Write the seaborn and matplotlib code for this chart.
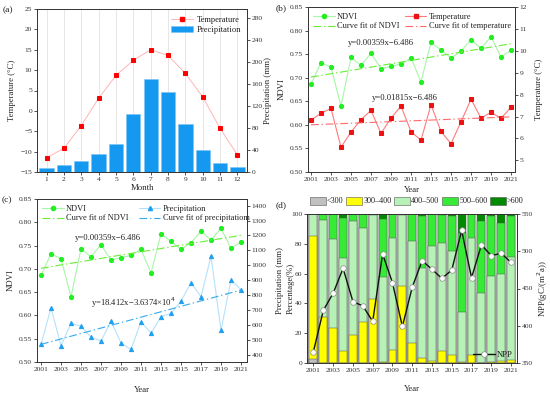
import numpy as np
import pandas as pd
import matplotlib
matplotlib.use("Agg")
import matplotlib.pyplot as plt
import seaborn as sns
from matplotlib.patches import Patch
from matplotlib.lines import Line2D

# ---------------- data ----------------
months = list(range(1, 13))
month_temp = [-11.5, -9.2, -3.6, 3.1, 8.7, 12.4, 15.0, 13.6, 9.2, 3.4, -4.3, -10.8]
month_prec = [7.3, 12.8, 19.5, 33.5, 50, 106, 169, 145.5, 87, 40, 17, 8.5]

years = list(range(2001, 2022))
ndvi = [0.686, 0.732, 0.722, 0.640, 0.743, 0.726, 0.752, 0.719, 0.724, 0.729, 0.742,
        0.691, 0.775, 0.759, 0.742, 0.756, 0.781, 0.762, 0.787, 0.744, 0.758]
temp = [6.84, 7.15, 7.37, 5.60, 6.29, 6.86, 7.28, 6.23, 6.93, 7.48, 6.31,
        5.92, 7.54, 6.32, 5.76, 6.76, 7.79, 6.93, 7.19, 6.92, 7.42]
prec = [469, 713, 460, 610, 590, 517, 490, 624, 478, 434, 621,
        543, 655, 677, 758, 883, 789, 1060, 563, 901, 836]
npp = [365.3, 420.7, 443.7, 477, 432.4, 426.6, 405.9, 496.4, 457.7, 399, 451.8,
       487.4, 475.7, 463.5, 474.8, 528, 464.4, 508.6, 494, 497.3, 485]

pct_lt300 = [2.5, 0, 0, 0, 0, 0, 0, 0, 0, 0, 0, 0, 0, 0, 0, 0, 0, 0, 0, 0, 0]
pct_300_400 = [82.5, 31, 23.4, 8, 19, 27.7, 43.2, 1, 9, 51.6, 13.3,
               3.4, 1.6, 7.9, 5.2, 0.5, 5.2, 0.3, 1, 1.6, 2]
pct_400_500 = [15, 65, 60, 62.7, 76.5, 62.8, 56.3, 57, 74.8, 48, 68.7,
               60.2, 77.2, 72.5, 70, 33.7, 79, 46.5, 57.6, 57.9, 69]
pct_500_600 = [0, 4, 16.6, 26.6, 4.5, 9.5, 0.5, 38.6, 16.2, 0.4, 18,
               35.3, 21.2, 19.1, 23.7, 53, 15.8, 48.7, 40.3, 34.4, 27.4]
pct_gt600 = [0, 0, 0, 2.7, 0, 0, 0, 3.4, 0, 0, 0,
             1.1, 0, 0.5, 1.1, 12.8, 0, 4.5, 1.1, 6.1, 1.6]
class_labels = ["<300", "300–400", "400–500", "500–600", ">600"]
year_ticks = list(range(2001, 2022, 2))

# ---------------- style ----------------
sns.set_style("ticks")
plt.rcParams["font.family"] = ["Liberation Serif", "DejaVu Serif"]
plt.rcParams["font.size"] = 5.6
plt.rcParams["axes.linewidth"] = 0.6
plt.rcParams["xtick.major.width"] = 0.6
plt.rcParams["ytick.major.width"] = 0.6
plt.rcParams["xtick.major.size"] = 2
plt.rcParams["ytick.major.size"] = 2
plt.rcParams["xtick.major.pad"] = 1.5
plt.rcParams["ytick.major.pad"] = 1.5
plt.rcParams["xtick.color"] = "#333333"
plt.rcParams["ytick.color"] = "#333333"
plt.rcParams["axes.edgecolor"] = "#333333"
plt.rcParams["text.color"] = "#222222"

W, H = 550, 395
fig = plt.figure(figsize=(5.5, 3.95), dpi=100)

def box(l, r, t, b):
    return [l / W, 1 - b / H, (r - l) / W, (b - t) / H]

LAB = 6.3
TICK = 5.4
dashdot = (0, (7, 2.5, 1.2, 2.5))

# ---------------- (a) ----------------
axa = fig.add_axes(box(37, 247, 9, 172))
axa2 = axa.twinx()
axa.grid(axis="x", color="#e2e2e2", lw=0.6)
sns.lineplot(x=months, y=month_temp, ax=axa, color="#ffb4b4", lw=0.7, marker="s",
             markersize=3, markerfacecolor="#ff0000", markeredgecolor="#ff0000")
sns.barplot(x=months, y=month_prec, ax=axa2, native_scale=True, color="#1598f0",
            saturation=1, width=0.82, edgecolor="#7cc4f5", linewidth=0.4, errorbar=None)
axa.set_xlim(0.45, 12.55)
axa.set_ylim(-15, 25)
axa.set_yticks(range(-15, 26, 5))
axa.set_xticks(months)
axa2.set_ylim(0, 296)
axa2.set_yticks(range(0, 281, 40))
axa.set_xlabel("Month", fontsize=LAB, labelpad=1.5)
axa.set_ylabel("Temperature (°C)", fontsize=LAB)
axa.yaxis.set_label_coords(-21 / 210, 0.5)
axa2.set_ylabel("Precipitation (mm)", fontsize=LAB)
axa2.yaxis.set_label_coords(1 + 17 / 210, 0.5)
axa2.legend(handles=[Line2D([], [], color="#ffb4b4", lw=0.7, marker="s", markersize=3,
                            markerfacecolor="#ff0000", markeredgecolor="#ff0000"),
                     Patch(facecolor="#1598f0", edgecolor="#7cc4f5", lw=0.4)],
            labels=["Temperature", "Precipitation"], loc="upper right",
            bbox_to_anchor=(1.0, 0.995), frameon=False, fontsize=6.1,
            handlelength=2.6, handletextpad=0.4, labelspacing=0.25, borderaxespad=0.3)
fig.text(3 / W, 1 - 10 / H, "(a)", fontsize=6.8, va="center")

# ---------------- (b) ----------------
ndvi_line = "#a6f7a6"
ndvi_mark = "#22ee22"
ndvi_fit_c = "#66ee33"
axb = fig.add_axes(box(308, 515, 7, 172))
axb2 = axb.twinx()
p_ndvi = np.polyfit(years, ndvi, 1)
p_temp = np.polyfit(years, temp, 1)
sns.lineplot(x=years, y=ndvi, ax=axb, color=ndvi_line, lw=0.8, marker="o", markersize=3,
             markerfacecolor=ndvi_mark, markeredgecolor=ndvi_mark)
sns.lineplot(x=years, y=np.polyval(p_ndvi, years), ax=axb, color=ndvi_fit_c, lw=0.8,
             linestyle=dashdot)
sns.lineplot(x=years, y=temp, ax=axb2, color="#ff7a7a", lw=0.8, marker="s", markersize=3,
             markerfacecolor="#ee1111", markeredgecolor="#ee1111")
sns.lineplot(x=years, y=np.polyval(p_temp, years), ax=axb2, color="#ff6a6a", lw=0.8,
             linestyle=dashdot)
axb.set_xlim(2000.7, 2021.4)
axb.set_xticks(year_ticks)
axb.set_ylim(0.50, 0.85)
axb.set_yticks(np.arange(0.50, 0.851, 0.05))
axb.set_yticklabels([f"{v:.2f}" for v in np.arange(0.50, 0.851, 0.05)])
axb2.set_ylim(4.47, 12)
axb2.set_yticks(range(5, 13))
axb.set_xlabel("Year", fontsize=LAB, labelpad=3)
axb.set_ylabel("NDVI", fontsize=LAB)
axb.yaxis.set_label_coords(-22 / 207, 0.5)
axb2.set_ylabel("Temperature (°C)", fontsize=LAB)
axb2.yaxis.set_label_coords(1 + 20 / 207, 0.5)
hb = [Line2D([], [], color=ndvi_line, lw=0.8, marker="o", markersize=3,
             markerfacecolor=ndvi_mark, markeredgecolor=ndvi_mark),
      Line2D([], [], color=ndvi_fit_c, lw=0.8, linestyle=dashdot),
      Line2D([], [], color="#ff7a7a", lw=0.8, marker="s", markersize=3,
             markerfacecolor="#ee1111", markeredgecolor="#ee1111"),
      Line2D([], [], color="#ff6a6a", lw=0.8, linestyle=dashdot)]
axb2.legend(handles=hb, labels=["NDVI", "Curve fit of NDVI", "Temperature",
                                "Curve fit of temperature"],
            ncol=2, loc="upper left", bbox_to_anchor=(0.0, 0.995), frameon=False,
            fontsize=6.0, handlelength=2.6, handletextpad=0.3, labelspacing=0.2,
            columnspacing=0.6, borderaxespad=0.2)
axb.text(2004.7, 0.773, "y=0.00359x−6.486", fontsize=6.2, va="center")
axb.text(2007.1, 0.656, "y=0.01815x−6.486", fontsize=6.2, va="center")
fig.text(276 / W, 1 - 8 / H, "(b)", fontsize=6.8, va="center")

# ---------------- (c) ----------------
axc = fig.add_axes(box(37, 247, 199, 362))
axc2 = axc.twinx()
p_prec = np.polyfit(years, prec, 1)
sns.lineplot(x=years, y=ndvi, ax=axc, color=ndvi_line, lw=0.8, marker="o", markersize=3,
             markerfacecolor=ndvi_mark, markeredgecolor=ndvi_mark)
sns.lineplot(x=years, y=np.polyval(p_ndvi, years), ax=axc, color=ndvi_fit_c, lw=0.8,
             linestyle=dashdot)
sns.lineplot(x=years, y=prec, ax=axc2, color="#b4e2fb", lw=0.8, marker="^", markersize=3,
             markerfacecolor="#1fa0f0", markeredgecolor="#1fa0f0")
sns.lineplot(x=years, y=np.polyval(p_prec, years), ax=axc2, color="#33aaee", lw=0.8,
             linestyle=dashdot)
axc.set_xlim(2000.6, 2021.6)
axc.set_xticks(year_ticks)
axc.set_ylim(0.50, 0.85)
axc.set_yticks(np.arange(0.50, 0.851, 0.05))
axc.set_yticklabels([f"{v:.2f}" for v in np.arange(0.50, 0.851, 0.05)])
axc2.set_ylim(350, 1445)
axc2.set_yticks(range(400, 1401, 100))
axc.set_xlabel("Year", fontsize=LAB, labelpad=10)
axc.set_ylabel("NDVI", fontsize=LAB)
axc.yaxis.set_label_coords(-22 / 210, 0.5)
axc2.set_ylabel("Precipitation (mm)", fontsize=LAB)
axc2.yaxis.set_label_coords(1 + 29 / 210, 0.5)
hc = [Line2D([], [], color=ndvi_line, lw=0.8, marker="o", markersize=3,
             markerfacecolor=ndvi_mark, markeredgecolor=ndvi_mark),
      Line2D([], [], color=ndvi_fit_c, lw=0.8, linestyle=dashdot),
      Line2D([], [], color="#b4e2fb", lw=0.8, marker="^", markersize=3,
             markerfacecolor="#1fa0f0", markeredgecolor="#1fa0f0"),
      Line2D([], [], color="#33aaee", lw=0.8, linestyle=dashdot)]
axc2.legend(handles=hc, labels=["NDVI", "Curve fit of NDVI", "Precipitation",
                                "Curve fit of precipitatiom"],
            ncol=2, loc="upper left", bbox_to_anchor=(0.0, 0.995), frameon=False,
            fontsize=6.0, handlelength=2.6, handletextpad=0.3, labelspacing=0.2,
            columnspacing=1.2, borderaxespad=0.2)
axc.text(2004.4, 0.767, "y=0.00359x−6.486", fontsize=6.2, va="center")
axc.text(2006.0, 0.628, "y=18.412x−3.6374×10$^4$", fontsize=6.2, va="center")
fig.text(2 / W, 1 - 200 / H, "(c)", fontsize=6.8, va="center")

# ---------------- (d) ----------------
cls_colors = ["#c0c0c0", "#ffff00", "#b6f2b6", "#36ea36", "#008a00"]
stack = [pct_lt300, pct_300_400, pct_400_500, pct_500_600, pct_gt600]
cums = np.cumsum(np.array(stack, dtype=float), axis=0)
axd = fig.add_axes(box(307, 517, 214, 363))
axd2 = axd.twinx()
for i in range(4, -1, -1):
    sns.barplot(x=years, y=cums[i], ax=axd, native_scale=True, color=cls_colors[i],
                saturation=1, width=0.8, edgecolor="#555555", linewidth=0.35,
                errorbar=None)
sns.lineplot(x=years, y=npp, ax=axd2, color="#111111", lw=1.0, marker="o", markersize=4,
             markerfacecolor="white", markeredgecolor="#888888", markeredgewidth=0.5)
axd.set_xlim(2000.35, 2021.6)
axd.set_xticks(year_ticks)
axd.set_ylim(0, 100)
axd.set_yticks(range(0, 101, 20))
axd2.set_ylim(350, 550)
axd2.set_yticks(range(350, 551, 50))
axd.set_xlabel("Year", fontsize=LAB, labelpad=9)
axd.set_ylabel("Percentage(%)", fontsize=LAB)
axd.yaxis.set_label_coords(-12 / 210, 0.5)
axd2.set_ylabel("NPP(gC/(m$^2$a))", fontsize=LAB)
axd2.yaxis.set_label_coords(1 + 19 / 210, 0.5)
axd2.legend(handles=[Line2D([], [], color="#111111", lw=1.0, marker="o", markersize=4,
                            markerfacecolor="white", markeredgecolor="#888888",
                            markeredgewidth=0.5)],
            labels=["NPP"], loc="lower right", frameon=False, fontsize=6.1,
            handlelength=2.6, handletextpad=0.2, borderaxespad=0.1)
fig.legend(handles=[Patch(facecolor=c, edgecolor="#555555", lw=0.4) for c in cls_colors],
           labels=class_labels, ncol=5, loc="center", bbox_to_anchor=(417 / W, 1 - 201 / H),
           frameon=False, fontsize=5.9, handlelength=1.9, handleheight=1.1,
           handletextpad=0.15, columnspacing=0.35)
fig.text(276 / W, 1 - 205 / H, "(d)", fontsize=6.8, va="center")

for ax in [axa, axa2, axb, axb2, axc, axc2, axd, axd2]:
    ax.tick_params(labelsize=TICK, direction="out")

fig.savefig("out.png", dpi=100)
